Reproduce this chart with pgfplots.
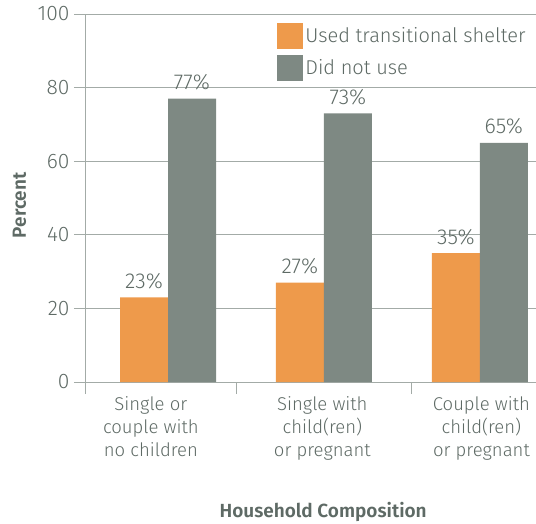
\documentclass[border=0pt]{standalone}
\usepackage{fontspec}
\setmainfont{Fira Sans Light}[BoldFont={Fira Sans SemiBold}]
\usepackage{pgfplots}
\pgfplotsset{compat=1.18}
\definecolor{txt}{HTML}{5E6A65}
\definecolor{gbar}{HTML}{7E8983}
\definecolor{obar}{HTML}{EE9A4B}
\definecolor{grd}{HTML}{A3ABA7}
\begin{document}
\begin{tikzpicture}
\begin{axis}[
  scale only axis, width=450pt, height=368pt,
  xmin=-0.526, xmax=2.36, ymin=0, ymax=100,
  ybar=0pt, bar width=48pt,
  axis x line=bottom, axis y line=left,
  axis line style={grd, line width=1pt, -},
  ytick={0,20,...,100}, ymajorgrids, grid style={grd, line width=1pt},
  major tick style={grd, line width=1pt},
  tick align=outside, major tick length=12pt,
  xtick={-0.526,0.442,1.564}, xticklabels={,,},
  /pgf/number format/assume math mode=true,
  yticklabel style={txt, font=\fontsize{21}{23}\selectfont, xshift=-1pt},
  nodes near coords={\pgfmathprintnumber{\pgfplotspointmeta}\%},
  nodes near coords style={txt, font=\fontsize{21.5}{23}\selectfont, yshift=5pt},
  legend style={at={(0.425,0.976)}, anchor=north west, draw=none, fill=white,
    font=\fontsize{20}{22}\selectfont, text=txt, row sep=6pt, inner sep=0pt},
  legend image code/.code={\fill[#1] (0pt,-13pt) rectangle (26pt,13pt);},
  legend cell align=left,
  xlabel={\bfseries Household Composition},
  xlabel style={at={(axis description cs:0.527,0)}, anchor=base, yshift=-135pt, txt, font=\fontsize{19}{22}\selectfont},
  ylabel={\bfseries Percent},
  ylabel style={at={([xshift=-60pt]axis description cs:0,0.48)}, anchor=base, txt, font=\fontsize{19}{22}\selectfont},
  clip=false,
]
\addplot[fill=obar, draw=none] coordinates {(0,23) (1,27) (2,35)};
\addplot[fill=gbar, draw=none] coordinates {(0,77) (1,73) (2,65)};
\legend{Used transitional shelter, Did not use}
\node[txt, font=\fontsize{18.5}{23}\selectfont, align=center, anchor=north] at (axis cs:-0.11,0) [yshift=-11pt] {Single or\\couple with\\no children};
\node[txt, font=\fontsize{18.5}{23}\selectfont, align=center, anchor=north] at (axis cs:0.99,0) [yshift=-11pt] {Single with\\child(ren)\\or pregnant};
\node[txt, font=\fontsize{18.5}{23}\selectfont, align=center, anchor=north] at (axis cs:2.01,0) [yshift=-11pt] {Couple with\\child(ren)\\or pregnant};
\coordinate (o) at (rel axis cs:0,0);
\coordinate (t) at (rel axis cs:1,1);
\end{axis}
\pgfresetboundingbox
\path[use as bounding box] ([xshift=-86pt,yshift=-141pt]o) rectangle ([yshift=14pt]t);
\end{tikzpicture}
\end{document}
